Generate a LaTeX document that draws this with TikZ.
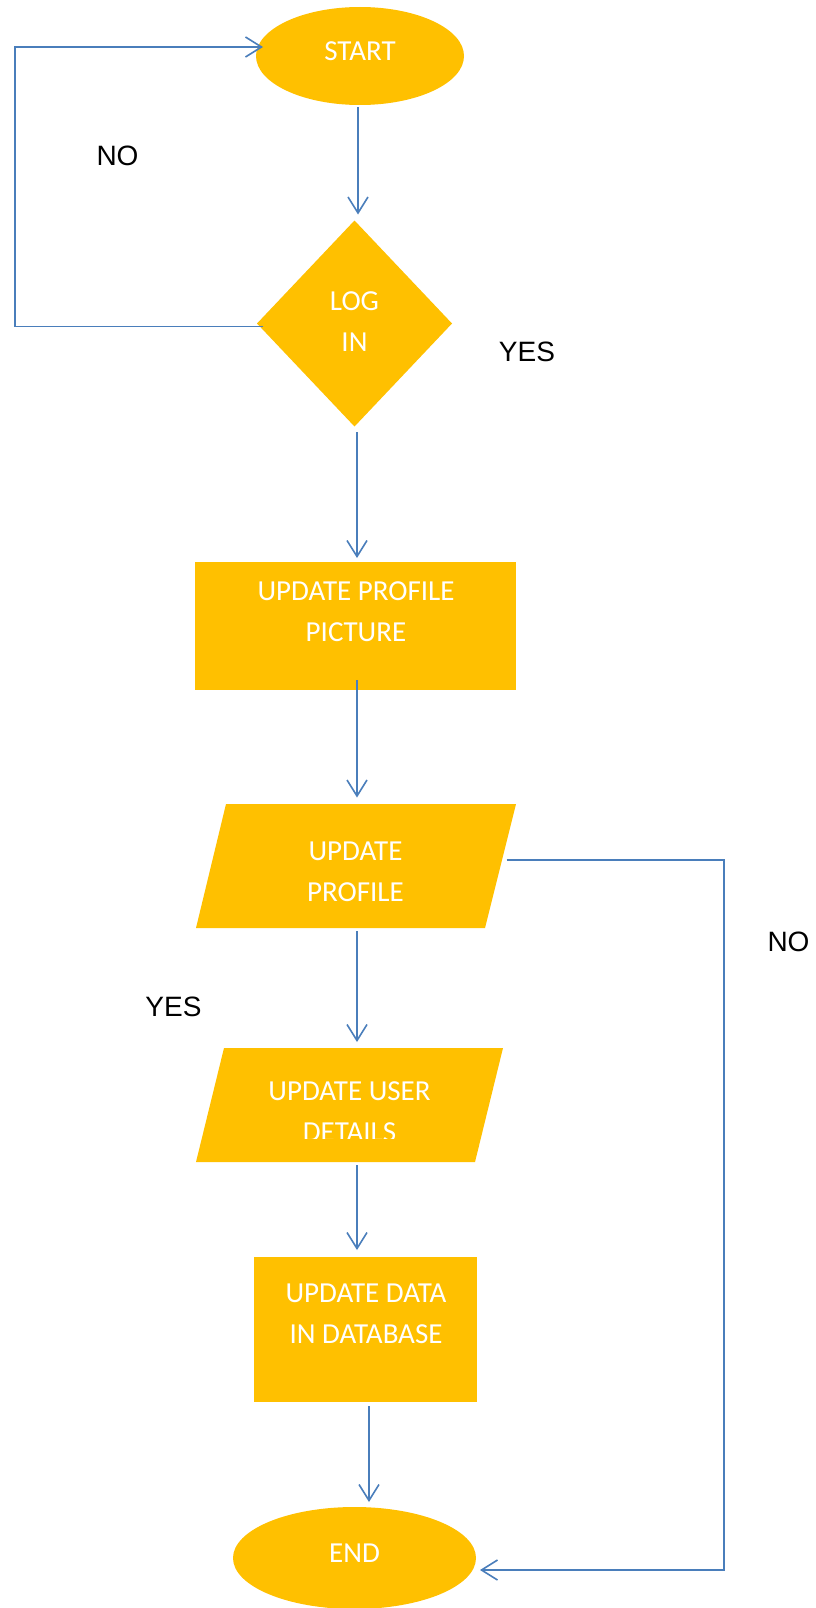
\documentclass[tikz,border=0pt]{standalone}
\usepackage{fontspec}
\setmainfont{Carlito}
\newfontfamily\labelfont{Liberation Sans}
\usetikzlibrary{shapes.geometric,arrows.meta}
\definecolor{gold}{HTML}{FFC000}
\definecolor{lineblue}{HTML}{4A7EBB}
\begin{document}
\begin{tikzpicture}[x=1pt,y=-1pt,
  shapefill/.style={fill=gold, draw=none, inner sep=0pt, outer sep=0pt},
  boxtext/.style={text=white, font=\fontsize{29pt}{41pt}\selectfont, align=center, inner sep=0pt},
  lbl/.style={text=black, font=\labelfont\fontsize{28pt}{34pt}\selectfont, inner sep=0pt},
  conn/.style={draw=lineblue, line width=1.6pt, -{Straight Barb[length=16pt,width=20pt]}}]

\fill[white] (0,0) rectangle (815,1608);
\useasboundingbox (0,0) rectangle (815,1608);

% shapes
\node[shapefill, ellipse, minimum width=208pt, minimum height=98pt] (start) at (360,56) {};
\node[shapefill, diamond, minimum width=195pt, minimum height=206pt] (login) at (354.5,323.5) {};
\node[shapefill, rectangle, minimum width=321pt, minimum height=128pt] (rect1) at (355.5,626) {};
\fill[gold] (226,804) -- (516,804) -- (485,928) -- (196,928) -- cycle;
\coordinate (p1n) at (357,804);
\coordinate (p1s) at (357,928);
\coordinate (p1e) at (502.5,860);
\fill[gold] (224,1048) -- (503,1048) -- (475,1162) -- (196,1162) -- cycle;
\coordinate (p2n) at (357,1048);
\coordinate (p2s) at (357,1162);
\node[shapefill, rectangle, minimum width=223pt, minimum height=145pt] (rect3) at (365.5,1329.5) {};
\node[shapefill, ellipse, minimum width=243pt, minimum height=102pt] (finish) at (354.5,1558) {};

% connectors
\coordinate (loopc) at (15,47);
\coordinate (rcorner) at (724,1570);
\draw[conn] ([xshift=-2pt,yshift=-2pt]start.south) -- ([xshift=3.5pt,yshift=6pt]login.north);
\draw[conn] ([xshift=6pt,yshift=-3pt]login.west) -| (loopc) -- ([xshift=7pt,yshift=9pt]start.west);
\draw[conn] ([xshift=2.5pt,yshift=-5.5pt]login.south) -- ([xshift=1.5pt,yshift=4pt]rect1.north);
\draw[conn] ([xshift=1.5pt,yshift=10pt]rect1.south) -- ([yshift=6.5pt]p1n);
\draw[conn] ([xshift=4pt]p1e) -| (rcorner) -- ([xshift=4pt,yshift=-12pt]finish.east);
\draw[conn] ([yshift=-3pt]p1s) -- ([yshift=6pt]p2n);
\draw[conn] ([yshift=-3pt]p2s) -- ([xshift=-8.5pt,yshift=7pt]rect3.north);
\draw[conn] ([xshift=3.5pt,yshift=-4pt]rect3.south) -- ([xshift=14.5pt,yshift=5pt]finish.north);

% texts
\node[boxtext] (tstart) at (360,51.5) {START};
\node[boxtext] (tlog) at (354.5,322) {LOG\\IN};
\node[boxtext] (tr1) at (356,612) {UPDATE PROFILE\\PICTURE};
\node[boxtext] (tp1) at (355.5,872) {UPDATE\\PROFILE};
\begin{scope}
  \clip (0,0) rectangle (815,1138);
  \node[boxtext] (tp2) at (349.5,1111.5) {UPDATE USER\\DETAILS};
\end{scope}
\node[boxtext] (tr3) at (366,1314) {UPDATE DATA\\IN DATABASE};
\node[boxtext] (tend) at (354.5,1553.5) {END};

% labels
\node[lbl] (no1) at (117.5,155.5) {NO};
\node[lbl] (yes1) at (527,352) {YES};
\node[lbl] (yes2) at (173.5,1007) {YES};
\node[lbl] (no2) at (788.5,941.5) {NO};
\end{tikzpicture}
\end{document}
